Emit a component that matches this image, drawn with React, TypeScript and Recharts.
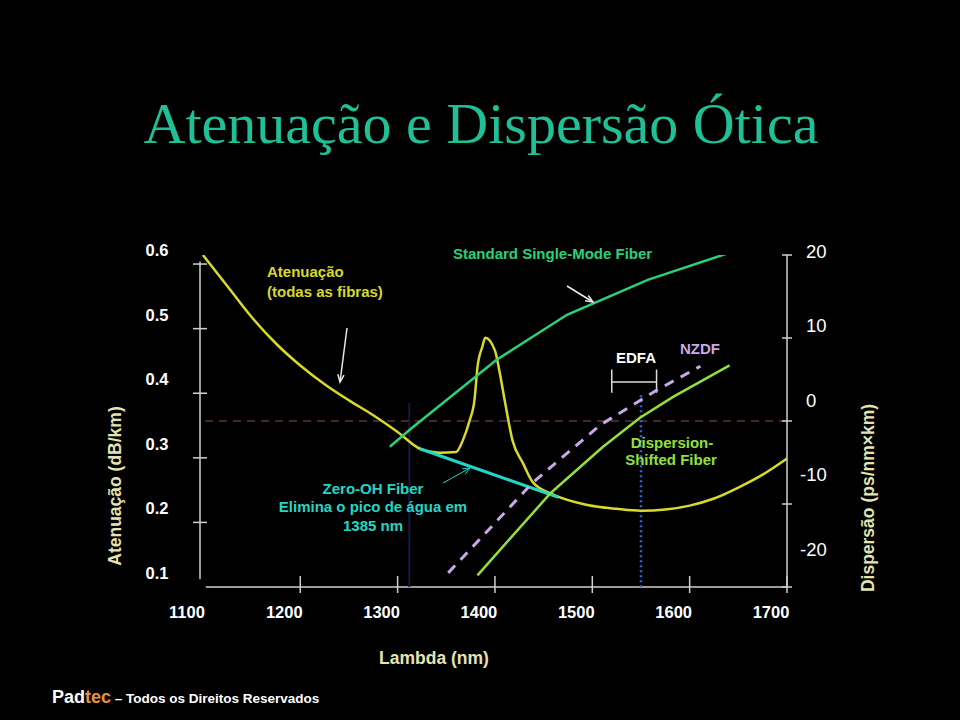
import React from "react";
import { LineChart, Line, XAxis, YAxis, ReferenceLine } from "recharts";

// ── Data ───────────────────────────────────────────────────────────────────
const WAVELENGTH_TICKS = [1100, 1200, 1300, 1400, 1500, 1600, 1700];
const ATT_TICKS = [0.1, 0.2, 0.3, 0.4, 0.5, 0.6];
const DISP_TICKS = [-20, -10, 0, 10, 20];

// attenuation, all fibres (dB/km), with the 1385 nm water peak
const attNm = [1100, 1125, 1150, 1175, 1200, 1225, 1250, 1275, 1300, 1323, 1343, 1360, 1367, 1374, 1379, 1382, 1387, 1390, 1400, 1405, 1410, 1418, 1429, 1439, 1460, 1495, 1525, 1550, 1575, 1600, 1625, 1650, 1675, 1700];
const attVal = [0.614, 0.566, 0.518, 0.477, 0.443, 0.414, 0.389, 0.366, 0.340, 0.314, 0.308, 0.309, 0.327, 0.358, 0.390, 0.440, 0.472, 0.486, 0.466, 0.431, 0.389, 0.327, 0.291, 0.262, 0.243, 0.227, 0.221, 0.218, 0.220, 0.226, 0.237, 0.254, 0.274, 0.299];

// zero-OH fibre (no water peak)
const zeroOhNm = [1323, 1465];
const zeroOhVal = [0.314, 0.239];

// dispersion (ps/nm×km)
const ssmfNm = [1292, 1313, 1402, 1474, 1557, 1639];
const ssmfVal = [-3.1, -1.0, 7.4, 12.8, 17.0, 20.2];
const nzdfNm = [1352, 1439, 1508, 1566, 1611];
const nzdfVal = [-18.3, -7.4, -0.5, 3.7, 6.6];
const dsfNm = [1382, 1457, 1511, 1549, 1583, 1641];
const dsfVal = [-18.6, -8.7, -3.1, 0.4, 2.9, 6.7];

// markers
const WINDOW_1310 = 1312;
const WINDOW_1550 = 1550;
const EDFA_BAND = [1520, 1566];

const toPoints = (xs: number[], ys: number[]) => xs.map((nm, i) => ({ nm, v: ys[i] }));

// ── Style tokens ───────────────────────────────────────────────────────────
const SANS = "'Liberation Sans', Arial, sans-serif";
const AXIS = "#cfcfcf";
const YELLOW = "#d9d92b";
const GREEN = "#2ad07a";
const CYAN = "#22d6c6";
const LAVENDER = "#c9a8e6";
const LIME = "#93e03c";
const KHAKI = "#e4e4b0";
const TITLE = "#20c097";

// ── Ticks (tick mark crosses the axis, labels sit off the mark like the slide) ──
const LeftTick = ({ x, y, payload }: any) => (
  <g>
    {payload.value > 0.15 && <line x1={x - 7} x2={x + 7} y1={y} y2={y} stroke={AXIS} strokeWidth={1.5} />}
    <text x={x - 43} y={y - 14} fill="#fff" fontFamily={SANS} fontSize={16.5} fontWeight="bold"
      textAnchor="middle" dominantBaseline="central">{Number(payload.value).toFixed(1)}</text>
  </g>
);

const RightTick = ({ x, y, payload }: any) => {
  const v = payload.value;
  return (
    <g>
      <line x1={x - 5} x2={x + 5} y1={y} y2={y} stroke={AXIS} strokeWidth={1.5} />
      <text x={v < 0 ? x + 13 : x + 19} y={y - 21 + v * 0.85} fill="#fff" fontFamily={SANS} fontSize={18.5}
        textAnchor="start" dominantBaseline="central">{String(v)}</text>
    </g>
  );
};

const BottomTick = ({ x, y, payload }: any) => (
  <g>
    {payload.value > 1100 && <line x1={x} x2={x} y1={y - 11} y2={y + 6} stroke={AXIS} strokeWidth={1.5} />}
    <text x={x - 16} y={y + 25} fill="#fff" fontFamily={SANS} fontSize={16.5} fontWeight="bold"
      textAnchor="middle" dominantBaseline="central">{payload.value}</text>
  </g>
);

const Arrow = ({ x1, y1, x2, y2, color, width = 1.5 }: any) => {
  const a = Math.atan2(y2 - y1, x2 - x1);
  const L = 8, s = 0.4;
  const p1 = [x2 - L * Math.cos(a - s), y2 - L * Math.sin(a - s)];
  const p2 = [x2 - L * Math.cos(a + s), y2 - L * Math.sin(a + s)];
  return (
    <g stroke={color} strokeWidth={width} fill="none">
      <line x1={x1} y1={y1} x2={x2} y2={y2} />
      <polyline points={`${p1[0]},${p1[1]} ${x2},${y2} ${p2[0]},${p2[1]}`} />
    </g>
  );
};

// ── Page ───────────────────────────────────────────────────────────────────
export default function App() {
  return (
    <div style={{ position: "fixed", left: 0, top: 0, width: 960, height: 720, background: "#000", overflow: "hidden" }}>
      <div style={{ position: "absolute", left: 0, top: 0 }}>
        <LineChart width={960} height={720} margin={{ top: 255, right: 133, bottom: 103, left: 160 }}>
          <XAxis type="number" dataKey="nm" domain={[1097, 1700]} ticks={WAVELENGTH_TICKS} allowDataOverflow
            interval={0} height={30} tickLine={false} tickSize={0} tickMargin={0}
            axisLine={false} tick={(p: any) => <BottomTick {...p} />} />
          <YAxis yAxisId="att" orientation="left" type="number" domain={[0.1, 0.614]} ticks={ATT_TICKS}
            allowDataOverflow interval={0} width={40} tickLine={false} tickSize={0} tickMargin={0}
            axisLine={false} tick={(p: any) => <LeftTick {...p} />} />
          <YAxis yAxisId="disp" orientation="right" type="number" domain={[-20, 20]} ticks={DISP_TICKS}
            allowDataOverflow interval={0} width={40} tickLine={false} tickSize={0} tickMargin={0}
            axisLine={{ stroke: AXIS, strokeWidth: 1.5 }} tick={(p: any) => <RightTick {...p} />} />

          {/* axis lines as on the slide: they do not meet in the corner */}
          <ReferenceLine yAxisId="att" segment={[{ x: 1097, y: 0.604 }, { x: 1097, y: 0.112 }]} stroke={AXIS} strokeWidth={1.5} />
          <ReferenceLine yAxisId="att" segment={[{ x: 1103, y: 0.1 }, { x: 1700, y: 0.1 }]} stroke={AXIS} strokeWidth={1.5} />

          <ReferenceLine yAxisId="disp" y={0} stroke="#5e3535" strokeWidth={1.5} strokeDasharray="8 6" />
          <ReferenceLine yAxisId="att" segment={[{ x: WINDOW_1310, y: 0.385 }, { x: WINDOW_1310, y: 0.1 }]}
            stroke="#17173f" strokeWidth={2} />
          <ReferenceLine yAxisId="att" segment={[{ x: WINDOW_1550, y: 0.397 }, { x: WINDOW_1550, y: 0.1 }]}
            stroke="#2a6ad0" strokeWidth={2.5} strokeDasharray="2 3" />

          {/* EDFA bracket */}
          <ReferenceLine yAxisId="disp" segment={[{ x: EDFA_BAND[0], y: 4.7 }, { x: EDFA_BAND[1], y: 4.7 }]} stroke="#dddddd" strokeWidth={1.5} />
          <ReferenceLine yAxisId="disp" segment={[{ x: EDFA_BAND[0], y: 6.2 }, { x: EDFA_BAND[0], y: 3.4 }]} stroke="#dddddd" strokeWidth={1.5} />
          <ReferenceLine yAxisId="disp" segment={[{ x: EDFA_BAND[1], y: 6.2 }, { x: EDFA_BAND[1], y: 3.4 }]} stroke="#dddddd" strokeWidth={1.5} />

          <Line yAxisId="att" data={toPoints(attNm, attVal)} dataKey="v" type="monotone" stroke={YELLOW}
            strokeWidth={2.5} dot={false} activeDot={false} isAnimationActive={false} />
          <Line yAxisId="disp" data={toPoints(ssmfNm, ssmfVal)} dataKey="v" type="linear" stroke={GREEN}
            strokeWidth={2.5} dot={false} activeDot={false} isAnimationActive={false} />
          <Line yAxisId="att" data={toPoints(zeroOhNm, zeroOhVal)} dataKey="v" type="linear" stroke={CYAN}
            strokeWidth={3} dot={false} activeDot={false} isAnimationActive={false} />
          <Line yAxisId="disp" data={toPoints(nzdfNm, nzdfVal)} dataKey="v" type="linear" stroke={LAVENDER}
            strokeWidth={3} strokeDasharray="10 8" dot={false} activeDot={false} isAnimationActive={false} />
          <Line yAxisId="disp" data={toPoints(dsfNm, dsfVal)} dataKey="v" type="linear" stroke={LIME}
            strokeWidth={2.5} dot={false} activeDot={false} isAnimationActive={false} />
        </LineChart>
      </div>

      <svg width={960} height={720} style={{ position: "absolute", left: 0, top: 0, pointerEvents: "none" }}>
        <text x={481} y={143} textAnchor="middle" fontFamily="'Liberation Serif', 'Times New Roman', serif"
          fontSize={58} fill={TITLE}>Atenuação e Dispersão Ótica</text>

        <g fontFamily={SANS} fontWeight="bold" fontSize={15}>
          <text x={267} y={277} fill={YELLOW}>Atenuação</text>
          <text x={267} y={297} fill={YELLOW}>(todas as fibras)</text>
          <text x={453} y={259} fill={GREEN}>Standard Single-Mode Fiber</text>
          <text x={616} y={363} fill="#ffffff">EDFA</text>
          <text x={680} y={354} fill={LAVENDER}>NZDF</text>
          <text x={672} y={448} textAnchor="middle" fill={LIME}>Dispersion-</text>
          <text x={671} y={465} textAnchor="middle" fill={LIME}>Shifted Fiber</text>
          <text x={373} y={494} textAnchor="middle" fill={CYAN}>Zero-OH Fiber</text>
          <text x={373} y={512} textAnchor="middle" fill={CYAN}>Elimina o pico de água em</text>
          <text x={373} y={531} textAnchor="middle" fill={CYAN}>1385 nm</text>
        </g>

        <Arrow x1={347} y1={328} x2={340} y2={382} color="#e8e8e8" />
        <Arrow x1={567} y1={286} x2={593} y2={302} color="#e8e8e8" />
        <Arrow x1={443} y1={483} x2={470} y2={468} color={CYAN} width={1} />

        <g fontFamily={SANS} fontWeight="bold" fontSize={17.5} fill={KHAKI}>
          <text transform="translate(115,486) rotate(-90)" textAnchor="middle" dominantBaseline="central">Atenuação (dB/km)</text>
          <text transform="translate(868,498) rotate(-90)" textAnchor="middle" dominantBaseline="central">Dispersão (ps/nm×km)</text>
          <text x={434} y={664} textAnchor="middle">Lambda (nm)</text>
        </g>

        <text x={52} y={703} fontFamily={SANS} fontWeight="bold" fontSize={18}>
          <tspan fill="#ffffff">Pad</tspan>
          <tspan fill="#e8923a">tec</tspan>
          <tspan fill="#ffffff" fontSize={13.5}> – Todos os Direitos Reservados</tspan>
        </text>
      </svg>
    </div>
  );
}
